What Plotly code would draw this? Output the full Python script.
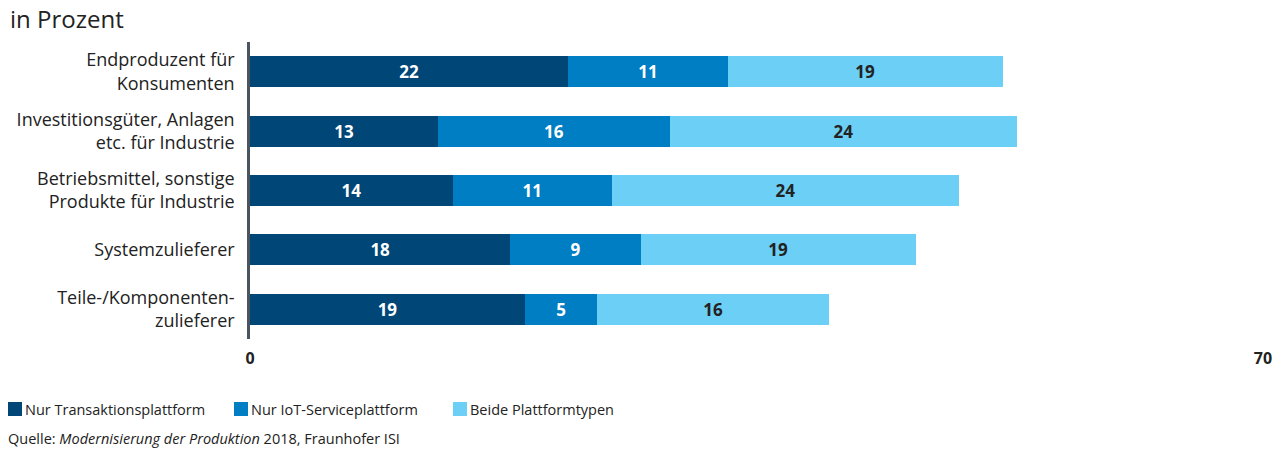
import plotly.graph_objects as go

# Kategorien und Anteile (in Prozent)
categories = [
    "Endproduzent für<br>Konsumenten",
    "Investitionsgüter, Anlagen<br>etc. für Industrie",
    "Betriebsmittel, sonstige<br>Produkte für Industrie",
    "Systemzulieferer",
    "Teile-/Komponenten-<br>zulieferer",
]
nur_transaktion = [22, 13, 14, 18, 19]
nur_iot = [11, 16, 11, 9, 5]
beide = [19, 24, 24, 19, 16]

series_names = ["Nur Transaktionsplattform", "Nur IoT-Serviceplattform", "Beide Plattformtypen"]
series_values = [nur_transaktion, nur_iot, beide]
series_colors = ["#004677", "#007ec4", "#6ccff6"]
text_colors = ["#ffffff", "#ffffff", "#222222"]

x_ticks = [0, 70]

FONT = "Open Sans"

fig = go.Figure()
for name, vals, col, tcol in zip(series_names, series_values, series_colors, text_colors):
    fig.add_trace(go.Bar(
        y=categories,
        x=vals,
        name=name,
        orientation="h",
        marker=dict(color=col, line=dict(width=0)),
        text=vals,
        textposition="inside",
        insidetextanchor="middle",
        textfont=dict(color=tcol, size=17, family=FONT, weight="bold"),
        width=0.52,
        showlegend=False,
        hoverinfo="skip",
    ))

fig.update_layout(
    barmode="stack",
    width=1283,
    height=450,
    margin=dict(l=250, r=20, t=42, b=111),
    paper_bgcolor="white",
    plot_bgcolor="white",
    font=dict(family=FONT, color="#222222"),
    xaxis=dict(
        range=[0, 70],
        tickvals=x_ticks,
        ticktext=[str(v) for v in x_ticks],
        showgrid=True,
        gridcolor="#c8c8c8",
        gridwidth=1.5,
        zeroline=False,
        showline=False,
        tickfont=dict(size=16, family=FONT, weight="bold", color="#222222"),
        ticks="outside",
        ticklen=5,
        tickcolor="rgba(0,0,0,0)",
        fixedrange=True,
    ),
    yaxis=dict(
        categoryorder="array",
        categoryarray=categories,
        autorange="reversed",
        showgrid=False,
        zeroline=False,
        showline=True,
        linecolor="#4a5560",
        linewidth=2.5,
        tickfont=dict(size=18, family=FONT, color="#222222"),
        ticks="outside",
        ticklen=9,
        tickcolor="rgba(0,0,0,0)",
        fixedrange=True,
    ),
)

# Titelzeile
fig.add_annotation(
    text="in Prozent", xref="paper", yref="paper",
    x=-250 / 1013, y=1, yshift=24, xshift=8,
    xanchor="left", yanchor="middle", showarrow=False,
    font=dict(size=24, family=FONT, color="#222222"),
)

# Legende
legend_x = [8, 234, 453]
for px, name, col in zip(legend_x, series_names, series_colors):
    fig.add_shape(
        type="rect", xref="paper", yref="paper",
        x0=(px - 250) / 1013, x1=(px + 14 - 250) / 1013,
        y0=-(409 - 42 - 297 + 7) / 297, y1=-(409 - 42 - 297 - 7) / 297,
        fillcolor=col, line=dict(width=0),
    )
    fig.add_annotation(
        text=name, xref="paper", yref="paper",
        x=(px + 15 - 250) / 1013, y=-(409 - 42 - 297) / 297,
        xanchor="left", yanchor="middle", showarrow=False,
        font=dict(size=14.5, family=FONT, color="#222222"),
    )

# Quellenangabe
fig.add_annotation(
    text="Quelle: <i>Modernisierung der Produktion</i> 2018, Fraunhofer ISI",
    xref="paper", yref="paper",
    x=(6 - 250) / 1013, y=-(438 - 42 - 297) / 297,
    xanchor="left", yanchor="middle", showarrow=False,
    font=dict(size=14.5, family=FONT, color="#222222"),
)

fig.write_html("out.html", config={"displayModeBar": False})
